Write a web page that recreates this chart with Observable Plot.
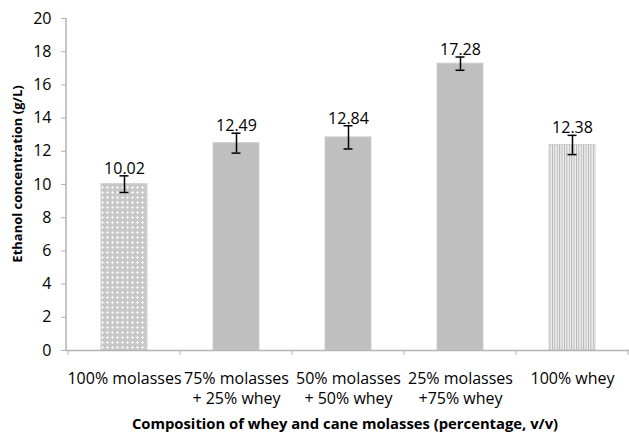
<!DOCTYPE html>
<html>
<head>
<meta charset="utf-8">
<script src="https://cdn.jsdelivr.net/npm/d3@7"></script>
<script src="https://cdn.jsdelivr.net/npm/@observablehq/plot@0.6"></script>
<style>
  html, body { margin: 0; padding: 0; background: #fff; }
  #chart svg { display: block; }
</style>
</head>
<body>
<div id="chart"></div>
<script>
const categories = [
  "100% molasses",
  "75% molasses\n+ 25% whey",
  "50% molasses\n+ 50% whey",
  "25% molasses\n+75% whey",
  "100% whey"
];
const values = [10.02, 12.49, 12.84, 17.28, 12.38];
const errors = [0.5, 0.6, 0.7, 0.4, 0.58];
const fills = ["url(#checker)", "#bfbfbf", "#bfbfbf", "#bfbfbf", "url(#vstripes)"];
const yTicks = [0, 2, 4, 6, 8, 10, 12, 14, 16, 18, 20];

const data = categories.map((c, i) => ({
  cat: c, value: values[i], err: errors[i], fill: fills[i],
  lo: values[i] - errors[i], hi: values[i] + errors[i], label: values[i].toFixed(2)
}));

const axisColor = "#b3b3b3";
const FONT = "'Open Sans', sans-serif";

// tick marks between categories (Excel style)
function betweenTicks(index, scales, values, dims) {
  const x = scales.x;
  const bw = typeof x.bandwidth === "function" ? x.bandwidth() : x.bandwidth;
  const step = typeof x.step === "function" ? x.step() : x.step;
  const y0 = scales.y(0);
  const g = d3.create("svg:g");
  const pos = categories.map(c => x(c) - (step - bw) / 2);
  pos.push(x(categories[categories.length - 1]) + bw + (step - bw) / 2);
  for (const p of pos) {
    g.append("line").attr("x1", p).attr("x2", p).attr("y1", y0).attr("y2", y0 + 5)
      .attr("stroke", axisColor).attr("stroke-width", 1);
  }
  return g.node();
}

const chart = Plot.plot({
  width: 629,
  height: 434,
  marginLeft: 66,
  marginRight: 0,
  marginTop: 18,
  marginBottom: 84,
  style: { fontFamily: FONT, fontSize: "16px", color: "#000", background: "#fff" },
  x: { domain: categories, paddingInner: 0.59, paddingOuter: 0.295, label: null },
  y: { domain: [0, 20], label: null },
  marks: [
    Plot.barY(data, { x: "cat", y: "value", fill: d => d.fill, stroke: "#cfcfcf", strokeWidth: 1 }),
    Plot.ruleX(data, { x: "cat", y1: "lo", y2: "hi", stroke: "#000", strokeWidth: 1.5 }),
    Plot.tickY(data, { x: "cat", y: "lo", stroke: "#000", strokeWidth: 1.5, insetLeft: 18.5, insetRight: 18.5 }),
    Plot.tickY(data, { x: "cat", y: "hi", stroke: "#000", strokeWidth: 1.5, insetLeft: 18.5, insetRight: 18.5 }),
    Plot.text(data, { x: "cat", y: "hi", text: "label", dy: -2, lineAnchor: "bottom", fontSize: 16, fill: "#000" }),
    Plot.axisY({ ticks: yTicks, tickSize: 5, tickPadding: 10, stroke: axisColor, fontSize: 16, color: "#000", label: null }),
    Plot.axisX({ tickSize: 0, tickPadding: 19, fontSize: 16, label: null, lineHeight: 1.25 }),
    Plot.ruleY([0], { stroke: axisColor, strokeWidth: 1.5 }),
    betweenTicks
  ]
});

const svg = d3.select(chart);
const defs = svg.insert("defs", ":first-child");
const pc = defs.append("pattern").attr("id", "checker").attr("patternUnits", "userSpaceOnUse")
  .attr("width", 5).attr("height", 5);
pc.append("rect").attr("width", 5).attr("height", 5).attr("fill", "#c8c8c8");
pc.append("rect").attr("x", 1).attr("y", 2).attr("width", 3).attr("height", 1).attr("fill", "#f4f4f4");
pc.append("rect").attr("x", 2).attr("y", 1).attr("width", 1).attr("height", 3).attr("fill", "#f4f4f4");
const pv = defs.append("pattern").attr("id", "vstripes").attr("patternUnits", "userSpaceOnUse")
  .attr("width", 2.4).attr("height", 4);
pv.append("rect").attr("width", 2.4).attr("height", 4).attr("fill", "#f0f0f0");
pv.append("rect").attr("width", 1).attr("height", 4).attr("fill", "#b5b5b5");

// left axis line
svg.append("line").attr("x1", 66).attr("x2", 66).attr("y1", 18).attr("y2", 350)
  .attr("stroke", axisColor).attr("stroke-width", 1.5);

svg.append("text").attr("transform", "translate(22,174) rotate(-90)")
  .attr("text-anchor", "middle").attr("font-weight", "bold").attr("font-size", 13)
  .attr("font-family", FONT).attr("fill", "#000").text("Ethanol concentration (g/L)");
svg.append("text").attr("x", 345).attr("y", 429)
  .attr("text-anchor", "middle").attr("font-weight", "bold").attr("font-size", 14.8)
  .attr("font-family", FONT).attr("fill", "#000").text("Composition of whey and cane molasses (percentage, v/v)");

document.getElementById("chart").appendChild(chart);
</script>
</body>
</html>
